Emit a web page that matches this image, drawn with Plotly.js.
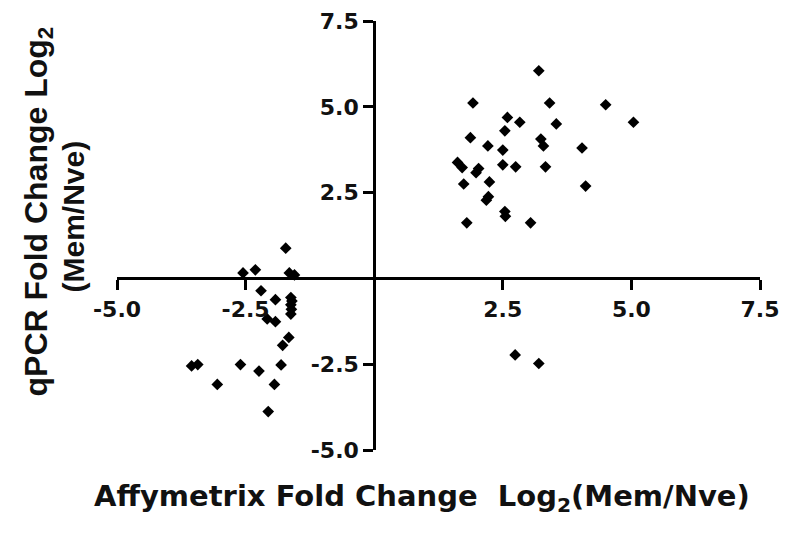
<!DOCTYPE html>
<html>
<head>
<meta charset="utf-8">
<script src="https://cdn.plot.ly/plotly-3.0.1.min.js"></script>
<style>html,body{margin:0;padding:0;background:#fff;}#chart{width:788px;height:535px;}</style>
</head>
<body>
<div id="chart"></div>
<script>
// Affymetrix log2 fold change (x) vs qPCR log2 fold change (y)
const affyLog2 = [
  3.20, 1.92, 3.41, 4.50, 5.04, 2.59, 2.83, 3.54, 2.54, 1.87,
  3.24, 3.29, 2.21, 2.50, 4.04, 1.62, 1.71, 1.98, 2.03, 2.50,
  2.75, 3.33, 1.74, 2.24, 4.11, 2.18, 2.22, 2.54, 2.55, 1.80,
  3.04,
  2.74, 3.20,
  -1.72, -2.55, -2.31, -1.65, -1.55, -2.20, -1.92, -1.62, -1.60, -1.62,
  -1.61, -1.62, -2.08, -1.92, -1.66, -1.78, -3.55, -3.43, -2.60, -2.24,
  -1.81, -3.05, -1.94, -2.06
];
const qpcrLog2 = [
  6.05, 5.11, 5.11, 5.06, 4.55, 4.69, 4.55, 4.50, 4.30, 4.10,
  4.06, 3.86, 3.86, 3.74, 3.80, 3.38, 3.23, 3.08, 3.20, 3.31,
  3.25, 3.25, 2.75, 2.81, 2.69, 2.28, 2.38, 1.95, 1.81, 1.62,
  1.62,
  -2.23, -2.48,
  0.88, 0.16, 0.25, 0.16, 0.10, -0.36, -0.62, -0.56, -0.66, -0.77,
  -0.90, -1.04, -1.18, -1.26, -1.72, -1.95, -2.55, -2.51, -2.51, -2.70,
  -2.52, -3.09, -3.09, -3.88
];
const xTickVals = [-5, -2.5, 2.5, 5, 7.5];
const xTickText = ["-5.0", "-2.5", "2.5", "5.0", "7.5"];
const yTickVals = [-5, -2.5, 2.5, 5, 7.5];
const yTickText = ["-5.0", "-2.5", "2.5", "5.0", "7.5"];

const tickFont = {family: "DejaVu Sans", size: 22, color: "#111", weight: "bold"};

const trace = {
  x: affyLog2, y: qpcrLog2, type: "scatter", mode: "markers",
  marker: {symbol: "diamond", size: 9, color: "#000"},
  hoverinfo: "x+y"
};

const axisCommon = {
  showgrid: false, zeroline: false, showline: true, linecolor: "#000", linewidth: 3,
  ticks: "outside", ticklen: 10, tickwidth: 3, tickcolor: "#000",
  tickfont: tickFont, tickmode: "array", anchor: "free", position: 0.4
};

const layout = {
  width: 788, height: 535,
  margin: {l: 117, r: 28, t: 21, b: 85},
  paper_bgcolor: "#fff", plot_bgcolor: "#fff",
  showlegend: false,
  xaxis: Object.assign({}, axisCommon, {range: [-5, 7.5], tickvals: xTickVals, ticktext: xTickText}),
  yaxis: Object.assign({}, axisCommon, {range: [-5, 7.5], tickvals: yTickVals, ticktext: yTickText}),
  annotations: [
    {text: "<b>Affymetrix Fold Change \u00a0Log<sub>2</sub>(Mem/Nve)</b>", xref: "paper", yref: "paper",
     x: 0.474, y: -0.112, xanchor: "center", yanchor: "middle", showarrow: false,
     font: {family: "DejaVu Sans", size: 29, color: "#111"}},
    {text: "<b>qPCR Fold Change Log<sub>2</sub></b>", xref: "paper", yref: "paper",
     x: -0.122, y: 0.555, xanchor: "center", yanchor: "middle", showarrow: false, textangle: -90,
     font: {family: "Liberation Sans", size: 32, color: "#111"}},
    {text: "<b>(Mem/Nve)</b>", xref: "paper", yref: "paper",
     x: -0.068, y: 0.545, xanchor: "center", yanchor: "middle", showarrow: false, textangle: -90,
     font: {family: "Liberation Sans", size: 30, color: "#111"}}
  ]
};

Plotly.newPlot("chart", [trace], layout, {displayModeBar: false, staticPlot: true});
</script>
</body>
</html>
